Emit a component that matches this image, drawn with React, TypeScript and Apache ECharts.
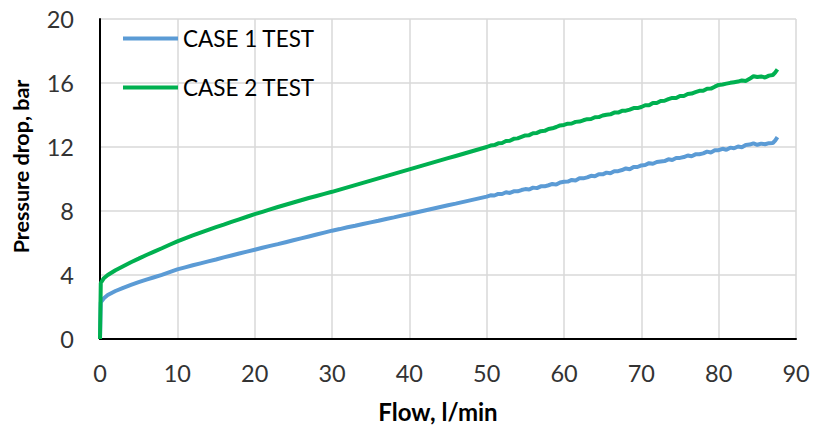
import React, { useEffect, useRef } from "react";
import * as echarts from "echarts";

const flow = [
  0, 0.1, 0.5, 1, 2, 3, 4, 5, 6, 7, 8, 9, 10,
  11, 12, 13, 14, 15, 16, 17, 18, 19, 20,
  21, 22, 23, 24, 25, 26, 27, 28, 29, 30,
  31, 32, 33, 34, 35, 36, 37, 38, 39, 40,
  41, 42, 43, 44, 45, 46, 47, 48, 49, 50,
  50.5, 51, 51.5, 52, 52.5, 53, 53.5, 54, 54.5, 55, 55.5, 56, 56.5, 57, 57.5, 58, 58.5, 59, 59.5, 60,
  60.5, 61, 61.5, 62, 62.5, 63, 63.5, 64, 64.5, 65, 65.5, 66, 66.5, 67, 67.5, 68, 68.5, 69, 69.5, 70,
  70.5, 71, 71.5, 72, 72.5, 73, 73.5, 74, 74.5, 75, 75.5, 76, 76.5, 77, 77.5, 78, 78.5, 79, 79.5, 80,
  80.5, 81, 81.5, 82, 82.5, 83, 83.5, 84, 84.5, 85, 85.5, 86, 86.5, 87, 87.3, 87.6,
];

const case1 = [
  0, 2.3, 2.55, 2.75, 3.0, 3.2, 3.38, 3.55, 3.71, 3.86, 4.01, 4.18, 4.35,
  4.48, 4.61, 4.73, 4.85, 4.97, 5.1, 5.22, 5.34, 5.46, 5.58,
  5.7, 5.82, 5.93, 6.05, 6.17, 6.29, 6.41, 6.53, 6.65, 6.77,
  6.87, 6.98, 7.08, 7.19, 7.29, 7.39, 7.5, 7.6, 7.71, 7.81,
  7.92, 8.03, 8.14, 8.25, 8.36, 8.46, 8.57, 8.68, 8.79, 8.9,
  8.98, 8.97, 9.07, 9.06, 9.17, 9.13, 9.23, 9.23, 9.31, 9.37, 9.34, 9.46, 9.43, 9.54, 9.54, 9.61, 9.69, 9.65, 9.78, 9.83,
  9.84, 9.94, 9.91, 10.04, 10.04, 10.1, 10.2, 10.17, 10.3, 10.29, 10.4, 10.36, 10.49, 10.49, 10.56, 10.66, 10.61, 10.75, 10.75, 10.85,
  10.87, 10.99, 10.95, 11.06, 11.09, 11.12, 11.23, 11.19, 11.31, 11.32, 11.37, 11.47, 11.42, 11.54, 11.55, 11.6, 11.71, 11.66, 11.79, 11.8,
  11.89, 11.83, 11.96, 11.92, 12.03, 11.99, 12.13, 12.15, 12.23, 12.14, 12.21, 12.17, 12.24, 12.25, 12.4, 12.62,
];

const case2 = [
  0, 3.5, 3.8, 4.0, 4.3, 4.55, 4.8, 5.02, 5.25, 5.46, 5.67, 5.89, 6.1,
  6.29, 6.47, 6.65, 6.82, 6.99, 7.15, 7.32, 7.48, 7.64, 7.8,
  7.95, 8.1, 8.25, 8.39, 8.53, 8.67, 8.81, 8.94, 9.07, 9.2,
  9.34, 9.48, 9.62, 9.76, 9.9, 10.04, 10.18, 10.32, 10.46, 10.6,
  10.74, 10.88, 11.02, 11.16, 11.3, 11.44, 11.58, 11.72, 11.86, 12.0,
  12.09, 12.12, 12.23, 12.25, 12.37, 12.39, 12.51, 12.54, 12.63, 12.72, 12.74, 12.86, 12.88, 12.99, 13.01, 13.13, 13.17, 13.25, 13.35, 13.38,
  13.46, 13.47, 13.57, 13.59, 13.67, 13.74, 13.75, 13.86, 13.87, 13.97, 14.02, 14.04, 14.15, 14.15, 14.26, 14.27, 14.34, 14.43, 14.43, 14.5,
  14.61, 14.61, 14.75, 14.75, 14.87, 14.89, 14.99, 15.07, 15.06, 15.19, 15.19, 15.31, 15.34, 15.43, 15.51, 15.51, 15.64, 15.65, 15.77, 15.88,
  15.91, 15.96, 16.01, 16.05, 16.09, 16.16, 16.13, 16.26, 16.42, 16.37, 16.41, 16.34, 16.46, 16.5, 16.65, 16.85,
];

const seriesNames = ["CASE 1 TEST", "CASE 2 TEST"];
const seriesColors = ["#5B9BD5", "#00B050"];

const FONT = "Lato, 'Open Sans', sans-serif";

export default function App() {
  const ref = useRef<HTMLDivElement>(null);
  useEffect(() => {
    if (!ref.current) return;
    const chart = echarts.init(ref.current, null, { renderer: "svg" });
    const pairs = (ys: number[]) => flow.map((x, i) => [x, ys[i]]);
    chart.setOption({
      animation: false,
      textStyle: { fontFamily: FONT },
      grid: { left: 100, right: 18, top: 19, bottom: 89, containLabel: false },
      legend: {
        orient: "vertical",
        left: 118,
        top: 22,
        icon: "rect",
        itemWidth: 55,
        itemHeight: 4,
        itemGap: 26,
        textStyle: { fontSize: 22.5, color: "#000", fontFamily: FONT },
        data: seriesNames,
      },
      xAxis: {
        type: "value",
        min: 0,
        max: 90,
        interval: 10,
        name: "Flow, l/min",
        nameLocation: "middle",
        nameGap: 60,
        nameTextStyle: {
          fontSize: 24,
          fontWeight: "bold",
          color: "#000",
          fontFamily: FONT,
          padding: [0, 20, 0, 0],
        },
        axisLine: { show: true, lineStyle: { color: "#000", width: 2 } },
        axisTick: { show: false },
        axisLabel: { fontSize: 23.5, color: "#333", margin: 22, fontFamily: FONT },
        splitLine: { show: true, lineStyle: { color: "#D9D9D9", width: 1.5 } },
      },
      yAxis: {
        type: "value",
        min: 0,
        max: 20,
        interval: 4,
        name: "Pressure drop, bar",
        nameLocation: "middle",
        nameGap: 68,
        nameTextStyle: {
          fontSize: 21.5,
          fontWeight: "bold",
          color: "#000",
          fontFamily: FONT,
          padding: [0, 0, 0, 25],
        },
        axisLine: { show: true, lineStyle: { color: "#000", width: 2 } },
        axisTick: { show: false },
        axisLabel: { fontSize: 23.5, color: "#333", margin: 26, fontFamily: FONT },
        splitLine: { show: true, lineStyle: { color: "#D9D9D9", width: 1.5 } },
      },
      series: [case1, case2].map((ys, i) => ({
        name: seriesNames[i],
        type: "line",
        data: pairs(ys),
        symbol: "none",
        showSymbol: false,
        lineStyle: { color: seriesColors[i], width: 4 },
        itemStyle: { color: seriesColors[i] },
      })),
    });
    return () => chart.dispose();
  }, []);
  return (
    <div
      ref={ref}
      style={{ position: "absolute", left: 0, top: 0, width: 814, height: 428 }}
    />
  );
}
